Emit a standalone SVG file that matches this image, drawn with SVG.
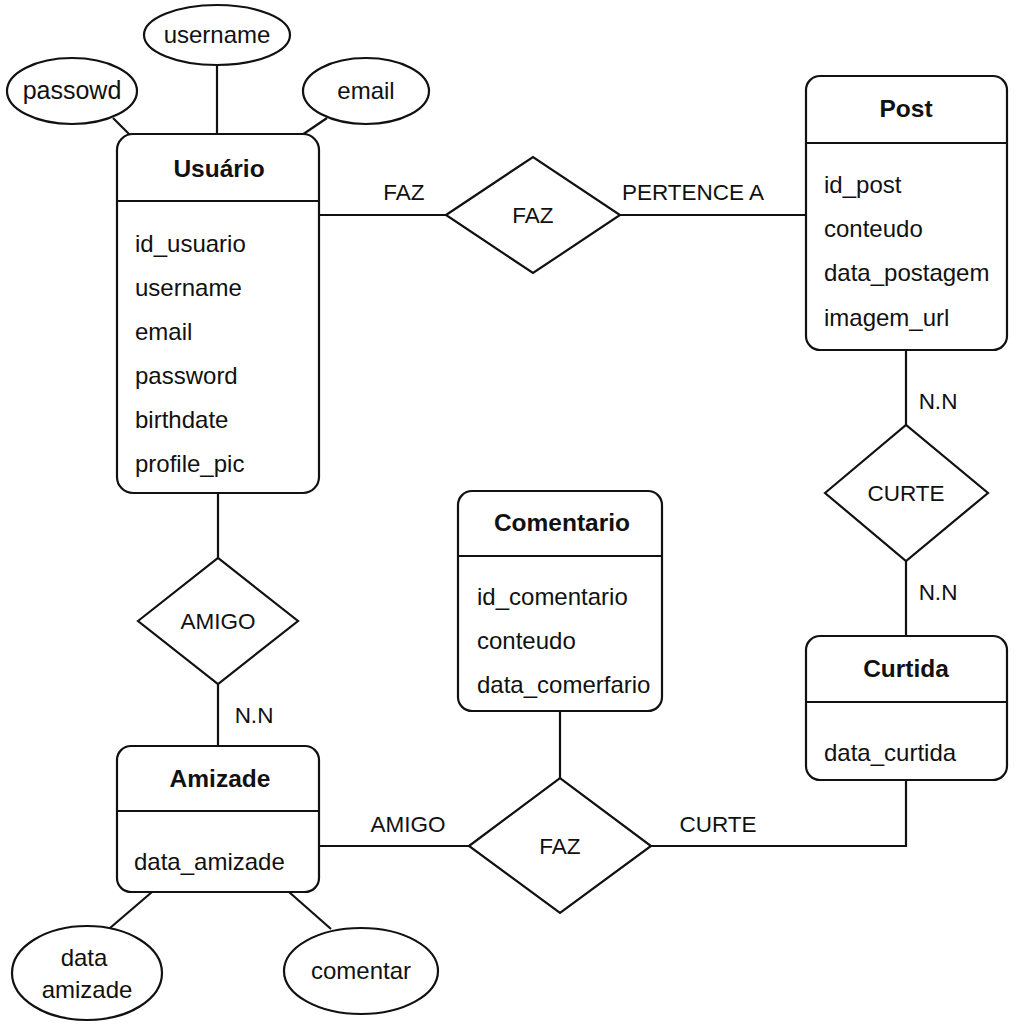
<svg xmlns="http://www.w3.org/2000/svg" width="1024" height="1024" viewBox="0 0 1024 1024">
<style>
.box{fill:#fff;stroke:#111;stroke-width:2.2}
.ln{fill:none;stroke:#111;stroke-width:2.2}
text{font-family:"Liberation Sans",Arial,sans-serif;fill:#111}
.t{font-size:24.5px;font-weight:bold;text-anchor:middle}
.a{font-size:24px}
.c{font-size:24px;text-anchor:middle}
.l{font-size:22.5px;text-anchor:middle}
</style>
<rect width="1024" height="1024" fill="#fff"/>
<g id="connectors">
<line class="ln" x1="217" y1="65" x2="217" y2="134"/>
<line class="ln" x1="113" y1="118" x2="131" y2="136"/>
<line class="ln" x1="327" y1="118" x2="302" y2="135"/>
<line class="ln" x1="319" y1="215" x2="446" y2="215"/>
<line class="ln" x1="620" y1="215" x2="806" y2="215"/>
<line class="ln" x1="906" y1="350" x2="906" y2="425"/>
<line class="ln" x1="906" y1="561" x2="906" y2="636"/>
<polyline class="ln" points="906,780 906,846 651,846"/>
<line class="ln" x1="560" y1="711" x2="560" y2="778"/>
<line class="ln" x1="319" y1="846" x2="469" y2="846"/>
<line class="ln" x1="218" y1="493" x2="218" y2="558"/>
<line class="ln" x1="218" y1="684" x2="218" y2="746"/>
<line class="ln" x1="152" y1="892" x2="110" y2="928"/>
<line class="ln" x1="289" y1="892" x2="331" y2="929"/>
<text class="l" x="404" y="200">FAZ</text>
<text class="l" x="693" y="200">PERTENCE A</text>
<text class="l" x="938" y="409">N.N</text>
<text class="l" x="938" y="600">N.N</text>
<text class="l" x="718" y="832">CURTE</text>
<text class="l" x="408" y="832">AMIGO</text>
<text class="l" x="254" y="723">N.N</text>
</g>
<g id="attr-username"><ellipse class="box" cx="217" cy="35" rx="73" ry="30"/><text class="c" x="217" y="43">username</text></g>
<g id="attr-passowd"><ellipse class="box" cx="72" cy="91" rx="65" ry="33"/><text class="c" x="72" y="99" style="font-size:25px">passowd</text></g>
<g id="attr-email"><ellipse class="box" cx="366" cy="91" rx="63" ry="33"/><text class="c" x="366" y="99">email</text></g>
<g id="usuario">
<rect class="box" x="117" y="134" width="202" height="359" rx="16"/>
<line class="ln" x1="117" y1="201" x2="319" y2="201"/>
<text class="t" x="219" y="177">Usuário</text>
<text class="a" x="135" y="252">id_usuario</text>
<text class="a" x="135" y="296">username</text>
<text class="a" x="135" y="340">email</text>
<text class="a" x="135" y="384">password</text>
<text class="a" x="135" y="428">birthdate</text>
<text class="a" x="135" y="472">profile_pic</text>
</g>
<g id="rel-faz-top"><polygon class="box" points="446,215 533,157 620,215 533,273"/><text class="l" x="533" y="223">FAZ</text></g>
<g id="post">
<rect class="box" x="806" y="76" width="201" height="274" rx="14"/>
<line class="ln" x1="806" y1="143" x2="1007" y2="143"/>
<text class="t" x="906" y="117">Post</text>
<text class="a" x="824" y="193">id_post</text>
<text class="a" x="824" y="237">conteudo</text>
<text class="a" x="824" y="281">data_postagem</text>
<text class="a" x="824" y="326">imagem_url</text>
</g>
<g id="rel-curte"><polygon class="box" points="825,493 906,425 988,493 906,561"/><text class="l" x="906" y="501">CURTE</text></g>
<g id="curtida">
<rect class="box" x="806" y="636" width="201" height="144" rx="14"/>
<line class="ln" x1="806" y1="702" x2="1007" y2="702"/>
<text class="t" x="906" y="677">Curtida</text>
<text class="a" x="824" y="761">data_curtida</text>
</g>
<g id="comentario">
<rect class="box" x="458" y="491" width="204" height="220" rx="14"/>
<line class="ln" x1="458" y1="556" x2="662" y2="556"/>
<text class="t" x="562" y="531">Comentario</text>
<text class="a" x="477" y="605">id_comentario</text>
<text class="a" x="477" y="649">conteudo</text>
<text class="a" x="477" y="693">data_comerfario</text>
</g>
<g id="rel-faz-bottom"><polygon class="box" points="469,846 560,778 651,846 560,913"/><text class="l" x="560" y="854">FAZ</text></g>
<g id="rel-amigo"><polygon class="box" points="138,621 218,558 298,621 218,684"/><text class="l" x="218" y="629">AMIGO</text></g>
<g id="amizade">
<rect class="box" x="117" y="746" width="202" height="146" rx="14"/>
<line class="ln" x1="117" y1="811" x2="319" y2="811"/>
<text class="t" x="220" y="787">Amizade</text>
<text class="a" x="134" y="870">data_amizade</text>
</g>
<g id="attr-data-amizade"><ellipse class="box" cx="87" cy="973" rx="75" ry="47"/><text class="c" x="84" y="966">data</text><text class="c" x="87" y="998">amizade</text></g>
<g id="attr-comentar"><ellipse class="box" cx="361" cy="971" rx="77" ry="43"/><text class="c" x="361" y="979">comentar</text></g>
</svg>
